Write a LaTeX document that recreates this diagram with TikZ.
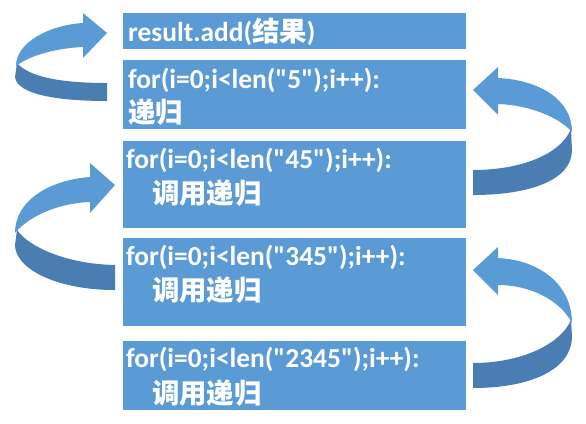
\documentclass[tikz,border=0pt]{standalone}
\usepackage{fontspec}
\setmainfont{Carlito}[Ligatures=TeXOff]
\newfontfamily\cjk{Noto Sans CJK SC}
\definecolor{boxblue}{HTML}{5B9BD5}
\definecolor{arrlight}{HTML}{5B9BD5}
\definecolor{arrdark}{HTML}{4A7EB3}
\newcommand{\zh}[1]{{\cjk\bfseries #1}}
\begin{document}
\begin{tikzpicture}[x=1bp,y=-1bp,
  codebox/.style={fill=boxblue, draw=none, inner sep=0, minimum width=343bp},
  codetext/.style={anchor=base west, inner sep=0, text=white, font=\fontsize{27.5}{32}\selectfont\bfseries},
  lightpart/.style={fill=arrlight},
  darkpart/.style={fill=arrdark}]
\useasboundingbox (0,0) rectangle (586,423);
% boxes
\node[codebox, minimum height=36bp] (b1) at (294.5,31) {};
\node[codebox, minimum height=69bp] (b2) at (294.5,94.5) {};
\node[codebox, minimum height=87bp] (b3) at (294.5,184.5) {};
\node[codebox, minimum height=88bp] (b4) at (294.5,282) {};
\node[codebox, minimum height=69bp] (b5) at (294.5,375.5) {};
% texts
\node[codetext] (t1) at (128,41) {result.add(\zh{结果})};
\node[codetext] (t2a) at (128,88) {for(i=0;i<len("5");i++):};
\node[codetext] (t2b) at (128,122) {\zh{递归}};
\node[codetext] (t3a) at (126,168) {for(i=0;i<len("45");i++):};
\node[codetext] (t3b) at (152,203) {\zh{调用递归}};
\node[codetext] (t4a) at (126,265) {for(i=0;i<len("345");i++):};
\node[codetext] (t4b) at (152,300) {\zh{调用递归}};
\node[codetext] (t5a) at (126,367) {for(i=0;i<len("2345");i++):};
\node[codetext] (t5b) at (152,403) {\zh{调用递归}};
% arrow A1 (top left)
\fill[darkpart] (17,63) .. controls (30,78) and (65,83) .. (107,83) -- (107,101) .. controls (60,101) and (17,95) .. (15,77) -- cycle;
\fill[lightpart] (107,33) -- (83,13) -- (83,23) .. controls (50,25) and (16,42) .. (16,66) .. controls (30,55) and (58,48) .. (83,47) -- (83,58) -- cycle;
% arrow A3 (middle left)
\fill[darkpart] (17,230) .. controls (28,246) and (65,264) .. (115,265) -- (115,290) .. controls (55,290) and (15,268) .. (15,245) -- cycle;
\fill[lightpart] (115,185) -- (90,163) -- (90,177) .. controls (50,180) and (15,200) .. (15,233) .. controls (30,215) and (60,203) .. (90,202) -- (90,213) -- cycle;
% arrow A2 (top right)
\fill[darkpart] (571,129) .. controls (560,155) and (520,170) .. (473,170) -- (473,195) .. controls (530,195) and (572,180) .. (572,150) -- cycle;
\fill[lightpart] (473,90) -- (498,67) -- (498,78) .. controls (540,80) and (572,100) .. (572,132) .. controls (560,118) and (530,105) .. (498,104) -- (498,115) -- cycle;
% arrow A4 (bottom right)
\fill[darkpart] (571,320) .. controls (560,345) and (520,363) .. (473,363) -- (473,388) .. controls (530,388) and (572,370) .. (572,336) -- cycle;
\fill[lightpart] (473,270) -- (498,247) -- (498,258) .. controls (540,260) and (572,285) .. (572,323) .. controls (560,300) and (530,285) .. (498,285) -- (498,295) -- cycle;
\end{tikzpicture}
\end{document}
